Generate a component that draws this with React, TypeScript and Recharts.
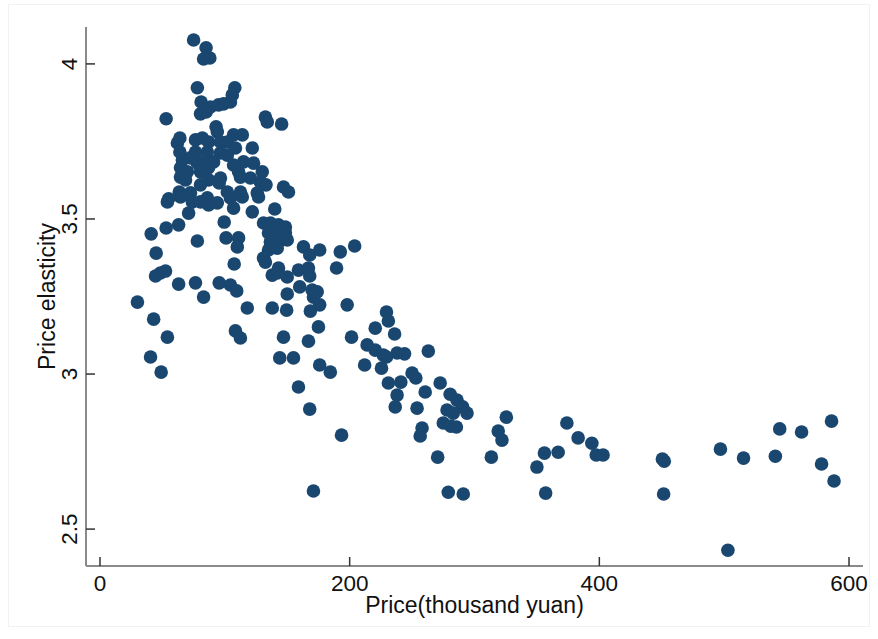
import React from 'react';
import { ScatterChart, Scatter, XAxis, YAxis } from 'recharts';

// =============================================================================
// DATA  [price (thousand yuan), price elasticity]
// =============================================================================

const xTicks = [0, 200, 400, 600];
const yTicks = [2.5, 3, 3.5, 4];

// price below ~100
const lowPrice: [number, number][] = [
  [75, 4.077], [85, 4.052], [83, 4.016], [88, 4.019],
  [78, 3.923], [81, 3.877], [88.5, 3.861], [95, 3.868], [99, 3.871], [80.5, 3.839], [85, 3.845],
  [53, 3.823], [93, 3.797], [94, 3.781],
  [64, 3.761], [62, 3.745], [76.5, 3.755], [82, 3.761], [87, 3.748], [96.5, 3.748],
  [64, 3.716], [76.5, 3.716], [86, 3.716], [96.5, 3.713], [66, 3.69], [72.5, 3.697],
  [78, 3.68], [83, 3.684], [91, 3.684], [64.5, 3.665], [70, 3.652], [80.5, 3.652], [87, 3.665],
  [64.5, 3.635], [68.5, 3.626], [87, 3.626], [96.5, 3.632], [80.5, 3.61], [95.5, 3.616],
  [63.5, 3.587], [72.5, 3.584], [55, 3.565], [86, 3.568], [54, 3.555], [64.5, 3.571],
  [74, 3.555], [80.5, 3.555], [87, 3.545], [94, 3.552], [71, 3.519], [99.5, 3.49],
  [41, 3.452], [53, 3.471], [63, 3.481], [78, 3.429], [45, 3.39],
  [44.5, 3.316], [48.5, 3.326], [52.5, 3.332], [63, 3.29], [76.5, 3.294], [83, 3.248], [95.5, 3.294],
  [30, 3.232], [43, 3.177], [54, 3.119], [40.5, 3.055], [49, 3.006],
];

// price ~100 to ~200
const midPrice: [number, number][] = [
  [108, 3.923], [106, 3.9], [104.5, 3.877], [132.5, 3.829], [134, 3.813], [145.5, 3.806],
  [107, 3.771], [114, 3.771], [102, 3.748], [108.5, 3.729], [122, 3.729], [102, 3.706],
  [107, 3.674], [115, 3.684], [123, 3.68], [111, 3.652], [130, 3.652], [112.5, 3.635],
  [120.5, 3.632], [128.5, 3.619], [133, 3.61], [147, 3.603], [102, 3.587], [112.5, 3.587],
  [126, 3.584], [104.5, 3.568], [107, 3.535], [114, 3.571], [127, 3.571], [122, 3.523],
  [140, 3.532], [131, 3.487], [151, 3.587],
  [101, 3.439], [111, 3.439], [110, 3.41], [107.5, 3.355], [132.5, 3.361],
  [136.5, 3.487], [143, 3.481], [148.5, 3.474], [135, 3.455], [142, 3.455], [148.5, 3.455],
  [136.5, 3.426], [143, 3.426], [150, 3.432], [135, 3.4], [142, 3.406], [131, 3.374], [143, 3.342],
  [104.5, 3.287], [109.5, 3.268], [138, 3.319], [142, 3.326], [150, 3.313], [150, 3.258],
  [118, 3.213], [138, 3.213], [149.5, 3.206], [108.5, 3.139], [112.5, 3.116], [147, 3.119],
  [144, 3.052], [155, 3.052],
  [163, 3.41], [176, 3.4], [192.5, 3.394], [168, 3.384], [189.5, 3.342], [159, 3.335],
  [167, 3.342], [168, 3.316], [160, 3.281], [170, 3.271], [174, 3.265], [171, 3.248],
  [176, 3.223], [168.5, 3.203], [198, 3.223], [175, 3.152], [167, 3.106], [176, 3.029],
  [184.5, 3.006], [159, 2.958], [168, 2.887], [193.5, 2.803], [171, 2.623],
];

// price ~200 to ~360
const upperPrice: [number, number][] = [
  [204, 3.413], [201.5, 3.119],
  [229.5, 3.2], [231, 3.171], [220.5, 3.148], [236, 3.129], [214, 3.094], [220.5, 3.077],
  [227, 3.061], [229.5, 3.055], [238, 3.068], [244, 3.065], [263, 3.074], [212, 3.029],
  [225.5, 3.019], [250, 3.003], [253, 2.987], [231, 2.971], [241, 2.974], [272.5, 2.971],
  [260.5, 2.942], [238, 2.932], [236.5, 2.894], [254, 2.89], [280.5, 2.935], [286, 2.916],
  [278, 2.884], [290.5, 2.894], [294, 2.874], [283, 2.874], [275, 2.842], [281, 2.832],
  [285.5, 2.829], [258, 2.826], [256.5, 2.8], [325.5, 2.861], [319, 2.816], [322, 2.787],
  [270.5, 2.732], [313.5, 2.732], [356, 2.745], [350, 2.7], [279, 2.619], [291, 2.613],
  [357, 2.616],
];

// price above ~360
const highPrice: [number, number][] = [
  [367, 2.748], [374, 2.842], [383, 2.794], [394, 2.777], [397.5, 2.739], [403, 2.739],
  [450.5, 2.726], [452, 2.719], [451.5, 2.613], [497, 2.758], [503, 2.432], [515.5, 2.729],
  [541, 2.735], [544.5, 2.823], [562, 2.813], [578, 2.71], [586, 2.848], [588, 2.655],
];

const points = [...lowPrice, ...midPrice, ...upperPrice, ...highPrice].map(([price, elasticity]) => ({
  price,
  elasticity,
}));

// =============================================================================
// STYLE
// =============================================================================

const FONT = '"Liberation Sans", Arial, Helvetica, sans-serif';
const DOT = '#1a476f';
const AXIS = '#8a8a8a';
const TICK = '#333333';
const TEXT = '#111111';

// =============================================================================
// AXIS PIECES (ticks point inward, as in Stata)
// =============================================================================

function XTick({ x, y, payload }: any) {
  return (
    <g>
      <line x1={x} y1={y} x2={x} y2={y - 9} stroke={TICK} strokeWidth={1.5} />
      <text x={x} y={y + 25} textAnchor="middle" fontSize={22.5} fontFamily={FONT} fill={TEXT}>
        {payload.value}
      </text>
    </g>
  );
}

function YTick({ x, y, payload }: any) {
  return (
    <g>
      <line x1={x} y1={y} x2={x + 9} y2={y} stroke={TICK} strokeWidth={1.5} />
      <text
        transform={`translate(${x - 9}, ${y}) rotate(-90)`}
        textAnchor="middle"
        fontSize={22.5}
        fontFamily={FONT}
        fill={TEXT}
      >
        {payload.value}
      </text>
    </g>
  );
}

function XTitle({ viewBox }: any) {
  const vb = viewBox ?? { x: 86, y: 566, width: 777, height: 73 };
  return (
    <text x={vb.x + vb.width / 2} y={vb.y + 47} textAnchor="middle" fontSize={23} fontFamily={FONT} fill={TEXT}>
      Price(thousand yuan)
    </text>
  );
}

function YTitle({ viewBox }: any) {
  const vb = viewBox ?? { x: 0, y: 27, width: 86, height: 539 };
  return (
    <text
      transform={`translate(${vb.x + 55}, ${vb.y + vb.height / 2}) rotate(-90)`}
      textAnchor="middle"
      fontSize={23}
      fontFamily={FONT}
      fill={TEXT}
    >
      Price elasticity
    </text>
  );
}

const Dot = (props: any) => <circle cx={props.cx} cy={props.cy} r={6.8} fill={DOT} />;

// =============================================================================
// COMPONENT
// =============================================================================

export default function App() {
  return (
    <div style={{ position: 'absolute', left: 0, top: 0, width: 878, height: 639, background: '#fff' }}>
      <div
        style={{
          position: 'absolute',
          left: 8,
          top: 4,
          width: 862,
          height: 623,
          border: '1px solid #f2f2f2',
          boxSizing: 'border-box',
        }}
      />
      <ScatterChart width={878} height={639} margin={{ top: 27, right: 15, bottom: 0, left: 0 }}>
        <XAxis
          type="number"
          dataKey="price"
          domain={[-11.2, 611.2]}
          ticks={xTicks}
          interval={0}
          height={73}
          tickSize={0}
          tickMargin={0}
          tick={XTick}
          axisLine={{ stroke: AXIS, strokeWidth: 2 }}
          label={<XTitle />}
          allowDataOverflow
        />
        <YAxis
          type="number"
          dataKey="elasticity"
          domain={[2.381, 4.119]}
          ticks={yTicks}
          interval={0}
          width={86}
          tickSize={0}
          tickMargin={0}
          tick={YTick}
          axisLine={{ stroke: AXIS, strokeWidth: 2 }}
          label={<YTitle />}
          allowDataOverflow
        />
        <Scatter data={points} fill={DOT} shape={Dot} isAnimationActive={false} />
      </ScatterChart>
    </div>
  );
}
